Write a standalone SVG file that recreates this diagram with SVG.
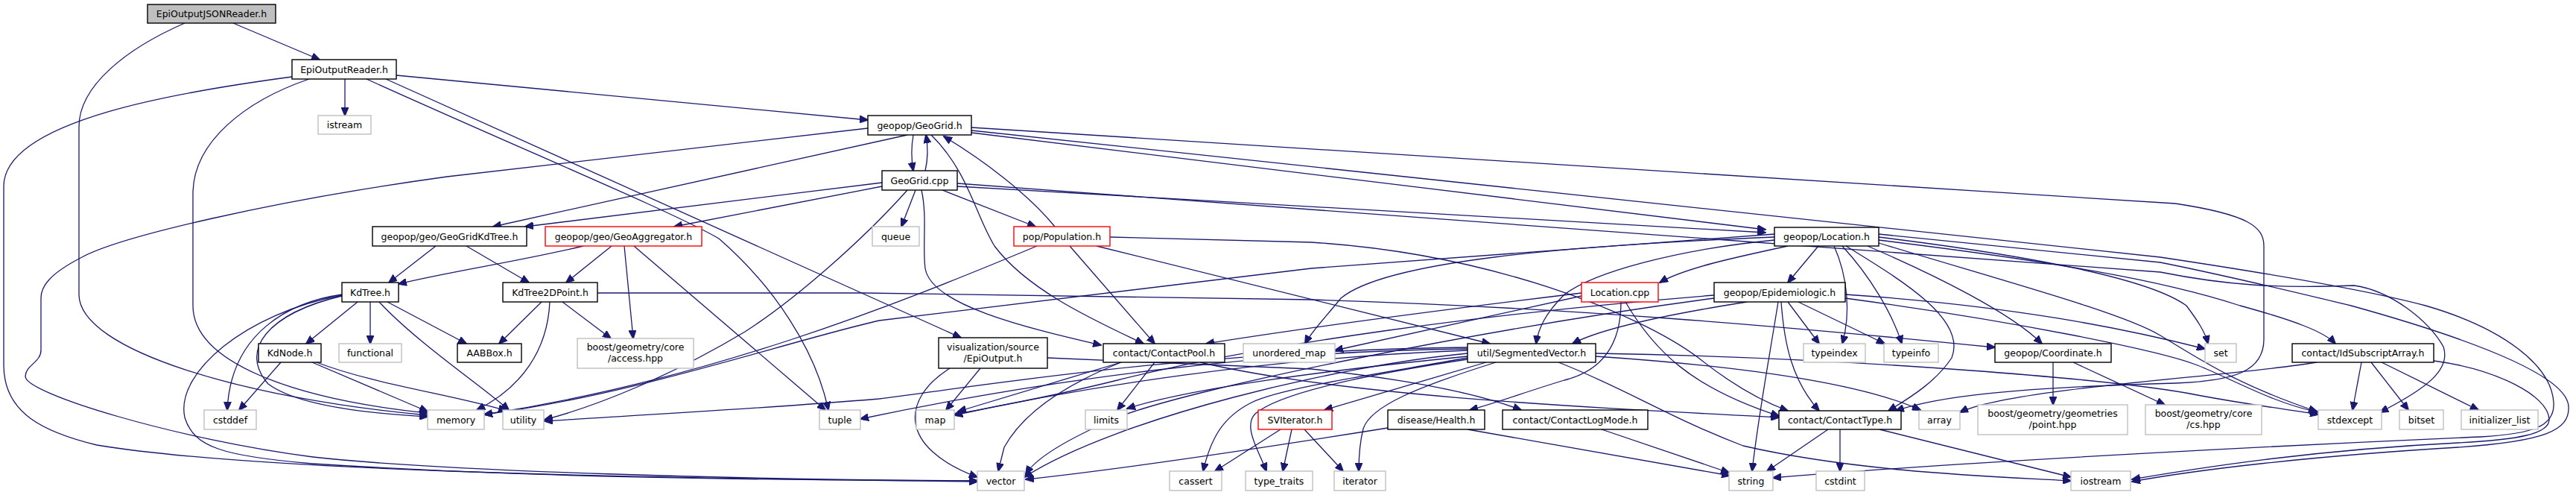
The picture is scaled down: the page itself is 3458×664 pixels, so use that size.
<svg xmlns="http://www.w3.org/2000/svg" width="3458" height="664" viewBox="0 0 3458 664">
<style>
.n rect{fill:#ffffff;stroke:#000000;stroke-width:1.4}
.n.root rect{fill:#bfbfbf}
.n.ext rect{stroke:#bfbfbf}
.n.red rect{stroke:#ff0000}
.n text{font-family:"DejaVu Sans","Liberation Sans",sans-serif;font-size:12.5px;text-anchor:middle;fill:#000000}
#edges path{fill:none;stroke:#191970;stroke-width:1.3;marker-end:url(#a)}
</style>
<defs>
<marker id="a" markerWidth="12" markerHeight="10" refX="11" refY="5" orient="auto" markerUnits="userSpaceOnUse"><path d="M0,0 L12,5 L0,10 z" fill="#191970" stroke="#191970" stroke-width="1"/></marker>
</defs>
<rect x="0" y="0" width="3458" height="664" fill="#ffffff"/>
<g id="edges">
<path d="M313,31 L429,80"/>
<path d="M248,31 C170,65 106,115 106,170 L106,395 C106,470 330,535 574,557"/>
<path d="M463,106 L463,155"/>
<path d="M392,103 C250,122 5,160 5,250 L5,490 C5,555 60,580 130,597 C330,630 800,641 1312,646"/>
<path d="M415,106 C330,135 259,190 259,260 L259,410 C259,485 390,535 574,554"/>
<path d="M532,101 L1165,161"/>
<path d="M518,106 L1290,453"/>
<path d="M492,106 C700,200 905,285 965,320 C1040,385 1095,470 1112,550"/>
<path d="M1226,181 C1223,198 1223,212 1226,229"/>
<path d="M1242,229 C1246,212 1246,198 1243,181"/>
<path d="M1218,181 L662,304"/>
<path d="M1165,172 L600,237 C360,270 160,318 110,345 C65,368 55,385 55,400 L55,470 C55,486 34,490 34,505 C34,528 240,590 420,613 C600,633 1000,643 1312,645"/>
<path d="M1250,181 C1300,230 1310,290 1335,330 C1380,390 1470,430 1535,461"/>
<path d="M1304,178 L2370,308"/>
<path d="M1304,171 L2920,273 C3020,288 3039,305 3039,330 L3039,455 C3039,498 3000,511 2920,514 C2700,520 2600,532 2545,551"/>
<path d="M1304,175 L2900,345 C3080,372 3200,395 3256,410 C3360,440 3425,490 3428,540 C3430,572 3400,582 3330,586 C3100,596 2650,618 2380,641"/>
<path d="M1184,245 L705,304"/>
<path d="M1184,250 L905,304"/>
<path d="M1218,255 C1160,320 1070,400 1000,445 C900,505 800,545 731,563"/>
<path d="M1229,255 L1210,304"/>
<path d="M1237,255 C1245,290 1238,330 1242,360 C1250,410 1380,440 1478,463"/>
<path d="M1265,255 L1390,304"/>
<path d="M1285,250 L2370,312"/>
<path d="M1285,246 L2900,365 C2990,383 3060,387 3160,383 C3210,390 3260,430 3280,465 C3290,495 3260,520 3195,553"/>
<path d="M1416,304 C1380,260 1320,215 1267,183"/>
<path d="M1392,330 C1200,410 950,510 650,556"/>
<path d="M1436,330 L1550,461"/>
<path d="M1472,330 L2000,461"/>
<path d="M1490,318 L1760,325 C2000,340 2200,420 2280,480 C2330,520 2370,540 2400,551"/>
<path d="M585,330 L522,379"/>
<path d="M626,330 L710,379"/>
<path d="M783,330 C700,350 600,365 535,381"/>
<path d="M821,330 L760,379"/>
<path d="M838,330 L850,454"/>
<path d="M851,330 L1108,550"/>
<path d="M480,405 L411,461"/>
<path d="M497,405 L497,461"/>
<path d="M520,405 L626,461"/>
<path d="M509,405 C560,460 650,520 683,550"/>
<path d="M459,395 C390,405 310,445 305,550"/>
<path d="M459,397 C360,420 320,470 360,515 C400,545 500,555 574,559"/>
<path d="M459,396 C330,420 235,500 248,560 C260,600 300,612 420,622 C700,640 1000,644 1312,645"/>
<path d="M377,486 L321,550"/>
<path d="M419,486 L574,552"/>
<path d="M425,486 C500,515 610,530 680,551"/>
<path d="M727,405 L670,461"/>
<path d="M738,405 C735,470 700,520 640,550"/>
<path d="M755,405 L820,454"/>
<path d="M802,393 L1160,393 L1760,402 C2100,412 2400,438 2678,466"/>
<path d="M1275,494 C1210,535 1205,600 1312,640"/>
<path d="M1316,494 L1270,550"/>
<path d="M1406,480 L1760,495 C1900,510 1990,530 2042,550"/>
<path d="M1505,486 L1286,552"/>
<path d="M1550,486 L1500,550"/>
<path d="M1505,486 C1420,520 1370,560 1348,600 L1340,632"/>
<path d="M1611,486 C1800,530 2100,545 2388,560"/>
<path d="M2441,330 L2400,379"/>
<path d="M2400,330 C2330,345 2260,360 2228,379"/>
<path d="M2382,322 C2250,335 2140,365 2100,395 C2075,420 2065,440 2062,461"/>
<path d="M2382,318 C2100,330 1860,350 1800,400 C1780,425 1760,445 1752,461"/>
<path d="M2382,314 L1760,360 L1180,430 C1050,460 850,530 650,556"/>
<path d="M2462,330 C2480,370 2485,420 2473,461"/>
<path d="M2473,330 C2510,370 2540,420 2553,461"/>
<path d="M2478,330 C2560,380 2640,430 2620,480 C2600,510 2570,530 2535,551"/>
<path d="M2507,330 C2600,370 2700,420 2741,461"/>
<path d="M2522,318 C2700,340 2880,370 2935,410 C2950,430 2960,445 2964,461"/>
<path d="M2522,322 C2750,350 2900,375 3007,410 C3080,430 3120,445 3135,461"/>
<path d="M2522,314 L2900,352 C3000,372 3080,392 3156,410 C3300,450 3445,500 3448,545 C3450,578 3415,592 3300,600 C3100,612 2950,630 2862,646"/>
<path d="M2522,326 C2700,380 2850,420 2900,450 C2950,480 3000,515 3110,552"/>
<path d="M2400,405 L2442,461"/>
<path d="M2414,405 L2530,461"/>
<path d="M2387,405 C2375,480 2360,560 2352,632"/>
<path d="M2391,405 C2395,460 2405,510 2442,551"/>
<path d="M2345,405 C2250,420 2150,440 2111,461"/>
<path d="M2301,396 C2000,420 1700,460 1500,510 C1400,535 1320,548 1281,556"/>
<path d="M2301,400 C2000,440 1600,520 1500,560 C1430,590 1390,615 1377,636"/>
<path d="M2477,395 C2700,410 2850,440 2960,468"/>
<path d="M2477,400 C2700,430 2900,470 2950,490 C3000,510 3050,540 3112,553"/>
<path d="M1995,486 L1778,550"/>
<path d="M2008,486 C1900,520 1840,545 1830,575 C1825,595 1824,612 1824,632"/>
<path d="M1970,480 C1860,500 1720,520 1680,540 C1640,560 1625,590 1615,632"/>
<path d="M1970,482 C1850,500 1720,525 1685,555 C1668,572 1690,605 1700,632"/>
<path d="M1970,474 C1800,490 1500,560 1375,640"/>
<path d="M1970,470 C1700,480 1450,520 1281,557"/>
<path d="M1970,478 C1800,495 1600,520 1513,548"/>
<path d="M1970,468 C1700,470 1400,510 1155,562"/>
<path d="M1970,466 C1600,470 1300,520 1180,535 C1000,550 800,560 731,565"/>
<path d="M2142,474 C2500,480 2850,510 2950,530 C3030,545 3080,550 3112,556"/>
<path d="M2142,478 C2350,492 2500,515 2578,550"/>
<path d="M2092,486 C2180,520 2240,560 2340,598 C2500,635 2700,640 2780,645"/>
<path d="M2123,397 L1792,470"/>
<path d="M2176,405 C2176,450 2160,495 2100,510 C2050,525 2010,540 1973,550"/>
<path d="M2182,405 C2220,470 2270,520 2388,558"/>
<path d="M2123,393 C1900,420 1750,440 1619,461"/>
<path d="M1719,576 L1631,632"/>
<path d="M1734,576 L1722,632"/>
<path d="M1751,576 L1803,632"/>
<path d="M1863,574 C1700,600 1500,630 1377,643"/>
<path d="M1970,576 L2322,638"/>
<path d="M2150,576 L2321,634"/>
<path d="M2454,576 L2372,632"/>
<path d="M2470,576 L2470,632"/>
<path d="M2523,576 L2780,640"/>
<path d="M2756,486 L2756,543"/>
<path d="M2783,486 L2906,543"/>
<path d="M3170,486 L3158,550"/>
<path d="M3183,486 L3233,550"/>
<path d="M3197,486 L3327,550"/>
<path d="M3110,486 C3000,505 2700,520 2631,553"/>
<path d="M3267,484 C3350,495 3420,530 3422,562 C3423,582 3380,590 3300,594 C3100,604 2950,628 2862,643"/>
</g>
<g id="n1" class="n root"><rect x="198" y="6" width="172" height="25"/><text x="284" y="23">EpiOutputJSONReader.h</text></g>
<g id="n2" class="n"><rect x="392" y="80" width="140" height="26"/><text x="462" y="97.5">EpiOutputReader.h</text></g>
<g id="n3" class="n ext"><rect x="427" y="155" width="71" height="25"/><text x="462.5" y="172">istream</text></g>
<g id="n4" class="n"><rect x="1165" y="155" width="139" height="26"/><text x="1234.5" y="172.5">geopop/GeoGrid.h</text></g>
<g id="n5" class="n"><rect x="1184" y="229" width="101" height="26"/><text x="1234.5" y="246.5">GeoGrid.cpp</text></g>
<g id="n6" class="n ext"><rect x="1171" y="304" width="63" height="26"/><text x="1202.5" y="321.5">queue</text></g>
<g id="n7" class="n red"><rect x="1361" y="304" width="129" height="26"/><text x="1425.5" y="321.5">pop/Population.h</text></g>
<g id="n8" class="n"><rect x="500" y="304" width="207" height="26"/><text x="603.5" y="321.5">geopop/geo/GeoGridKdTree.h</text></g>
<g id="n9" class="n red"><rect x="732" y="304" width="210" height="26"/><text x="837" y="321.5">geopop/geo/GeoAggregator.h</text></g>
<g id="n10" class="n"><rect x="459" y="379" width="76" height="26"/><text x="497" y="396.5">KdTree.h</text></g>
<g id="n11" class="n"><rect x="675" y="379" width="127" height="26"/><text x="738.5" y="396.5">KdTree2DPoint.h</text></g>
<g id="n12" class="n"><rect x="347" y="461" width="84" height="25"/><text x="389" y="478">KdNode.h</text></g>
<g id="n13" class="n ext"><rect x="455" y="461" width="84" height="25"/><text x="497" y="478">functional</text></g>
<g id="n14" class="n"><rect x="614" y="461" width="86" height="25"/><text x="657" y="478">AABBox.h</text></g>
<g id="n15" class="n ext"><rect x="775" y="454" width="156" height="40"/><text x="853" y="470">boost/geometry/core</text><text x="853" y="485">/access.hpp</text></g>
<g id="n16" class="n ext"><rect x="274" y="550" width="70" height="26"/><text x="309" y="567.5">cstddef</text></g>
<g id="n17" class="n ext"><rect x="574" y="550" width="76" height="26"/><text x="612" y="567.5">memory</text></g>
<g id="n18" class="n ext"><rect x="675" y="550" width="55" height="26"/><text x="702.5" y="567.5">utility</text></g>
<g id="n19" class="n ext"><rect x="1100" y="550" width="55" height="26"/><text x="1127.5" y="567.5">tuple</text></g>
<g id="n20" class="n"><rect x="1260" y="453" width="146" height="41"/><text x="1333" y="469.5">visualization/source</text><text x="1333" y="484.5">/EpiOutput.h</text></g>
<g id="n21" class="n"><rect x="1481" y="461" width="163" height="25"/><text x="1562.5" y="478">contact/ContactPool.h</text></g>
<g id="n22" class="n ext"><rect x="1669" y="461" width="123" height="25"/><text x="1730.5" y="478">unordered_map</text></g>
<g id="n23" class="n ext"><rect x="1230" y="550" width="51" height="26"/><text x="1255.5" y="567.5">map</text></g>
<g id="n24" class="n ext"><rect x="1457" y="550" width="56" height="26"/><text x="1485" y="567.5">limits</text></g>
<g id="n25" class="n ext"><rect x="1312" y="632" width="63" height="26"/><text x="1343.5" y="649.5">vector</text></g>
<g id="n26" class="n ext"><rect x="1570" y="632" width="70" height="26"/><text x="1605" y="649.5">cassert</text></g>
<g id="n27" class="n ext"><rect x="1672" y="632" width="90" height="26"/><text x="1717" y="649.5">type_traits</text></g>
<g id="n28" class="n red"><rect x="1689" y="550" width="99" height="26"/><text x="1738.5" y="567.5">SVIterator.h</text></g>
<g id="n29" class="n ext"><rect x="1791" y="632" width="69" height="26"/><text x="1825.5" y="649.5">iterator</text></g>
<g id="n30" class="n"><rect x="1863" y="550" width="130" height="26"/><text x="1928" y="567.5">disease/Health.h</text></g>
<g id="n31" class="n"><rect x="2017" y="550" width="195" height="26"/><text x="2114.5" y="567.5">contact/ContactLogMode.h</text></g>
<g id="n32" class="n"><rect x="1970" y="461" width="172" height="25"/><text x="2056" y="478">util/SegmentedVector.h</text></g>
<g id="n33" class="n red"><rect x="2123" y="379" width="103" height="26"/><text x="2174.5" y="396.5">Location.cpp</text></g>
<g id="n34" class="n"><rect x="2301" y="379" width="176" height="26"/><text x="2389" y="396.5">geopop/Epidemiologic.h</text></g>
<g id="n35" class="n"><rect x="2382" y="305" width="140" height="25"/><text x="2452" y="322">geopop/Location.h</text></g>
<g id="n36" class="n ext"><rect x="2421" y="461" width="83" height="25"/><text x="2462.5" y="478">typeindex</text></g>
<g id="n37" class="n ext"><rect x="2529" y="461" width="73" height="25"/><text x="2565.5" y="478">typeinfo</text></g>
<g id="n38" class="n"><rect x="2678" y="461" width="156" height="25"/><text x="2756" y="478">geopop/Coordinate.h</text></g>
<g id="n39" class="n ext"><rect x="2960" y="461" width="42" height="25"/><text x="2981" y="478">set</text></g>
<g id="n40" class="n"><rect x="3077" y="461" width="190" height="25"/><text x="3172" y="478">contact/IdSubscriptArray.h</text></g>
<g id="n41" class="n"><rect x="2388" y="551" width="164" height="25"/><text x="2470" y="568">contact/ContactType.h</text></g>
<g id="n42" class="n ext"><rect x="2576" y="551" width="55" height="25"/><text x="2603.5" y="568">array</text></g>
<g id="n43" class="n ext"><rect x="2655" y="543" width="201" height="40"/><text x="2755.5" y="559">boost/geometry/geometries</text><text x="2755.5" y="574">/point.hpp</text></g>
<g id="n44" class="n ext"><rect x="2880" y="543" width="156" height="40"/><text x="2958" y="559">boost/geometry/core</text><text x="2958" y="574">/cs.hpp</text></g>
<g id="n45" class="n ext"><rect x="3112" y="550" width="85" height="26"/><text x="3154.5" y="567.5">stdexcept</text></g>
<g id="n46" class="n ext"><rect x="3221" y="550" width="59" height="26"/><text x="3250.5" y="567.5">bitset</text></g>
<g id="n47" class="n ext"><rect x="3304" y="550" width="103" height="26"/><text x="3355.5" y="567.5">initializer_list</text></g>
<g id="n48" class="n ext"><rect x="2321" y="632" width="59" height="26"/><text x="2350.5" y="649.5">string</text></g>
<g id="n49" class="n ext"><rect x="2438" y="632" width="65" height="26"/><text x="2470.5" y="649.5">cstdint</text></g>
<g id="n50" class="n ext"><rect x="2780" y="632" width="80" height="26"/><text x="2820" y="649.5">iostream</text></g>
</svg>
